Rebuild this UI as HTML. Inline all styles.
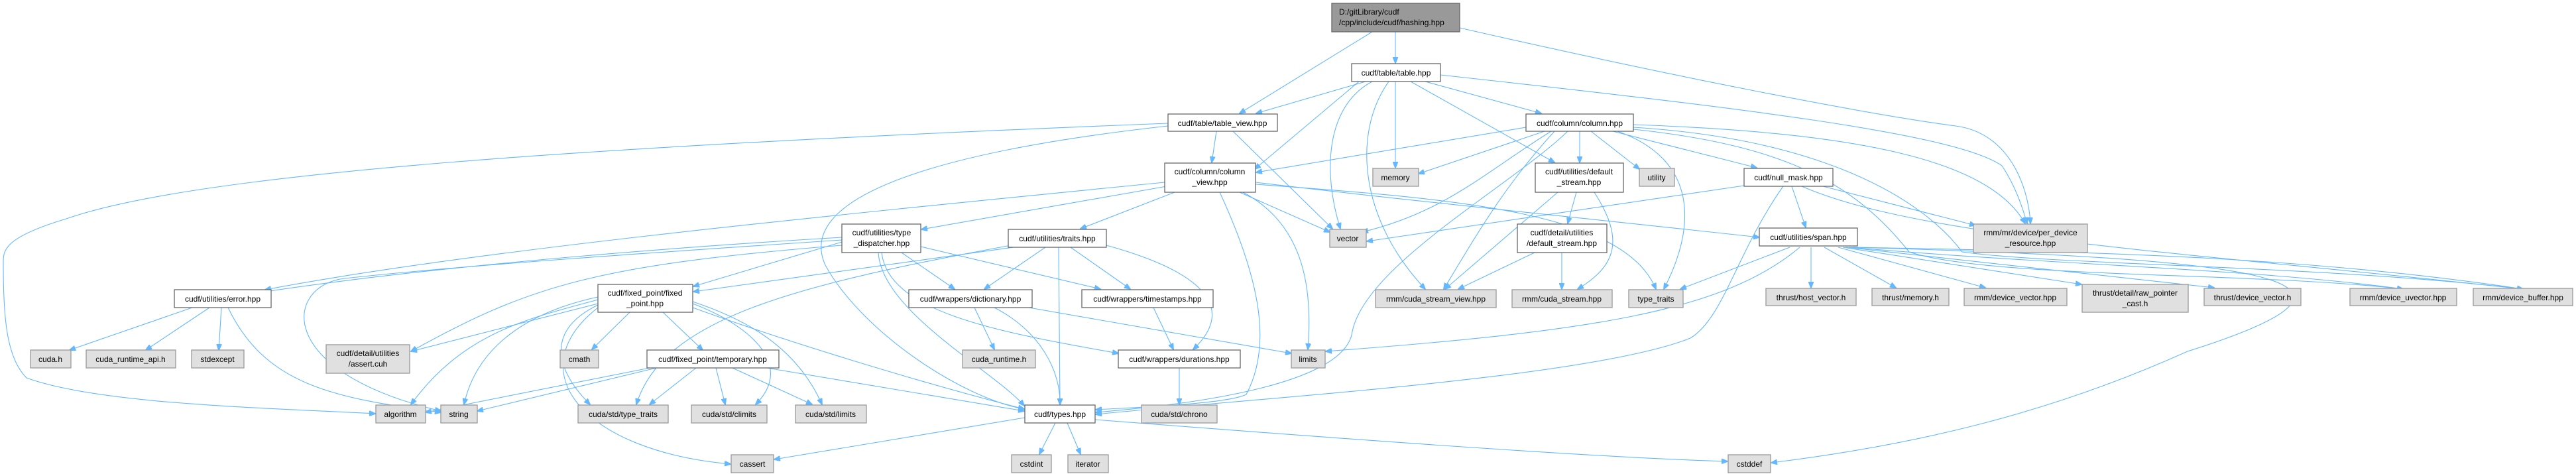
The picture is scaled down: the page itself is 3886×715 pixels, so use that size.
<!DOCTYPE html>
<html><head><meta charset="utf-8"><style>
html,body{margin:0;padding:0;background:#fff;}
svg{display:block;}
text{font-family:"Liberation Sans",sans-serif;font-size:12px;fill:#000;text-anchor:middle;}
.w{fill:#fff;stroke:#666;stroke-width:1.3;}
.g{fill:#e0e0e0;stroke:#999;stroke-width:1.3;}
.h{fill:#999;stroke:#666;stroke-width:1.3;}
.e{fill:none;stroke:#63b8ff;stroke-width:1.1;}
</style></head><body>
<svg width="3886" height="715" viewBox="0 0 3886 715" xmlns="http://www.w3.org/2000/svg">
<defs><marker id="a" markerWidth="10" markerHeight="8" refX="9" refY="4" orient="auto" markerUnits="userSpaceOnUse"><path d="M0,0 L10,4 L0,8 z" fill="#63b8ff" stroke="#63b8ff"/></marker></defs>
<g marker-end="url(#a)">
<path class="e" d="M2105,48 L2105,95"/>
<path class="e" d="M2070,48 L1870,171"/>
<path class="e" d="M2202,42 C2500,110 2800,170 2950,190 C3030,200 3060,280 3063,337"/>
<path class="e" d="M2060,123 L1895,171"/>
<path class="e" d="M2150,123 L2325,171"/>
<path class="e" d="M2105,123 L2105,253"/>
<path class="e" d="M2070,123 C2000,160 1995,260 2022,345"/>
<path class="e" d="M2095,123 C2040,200 2050,330 2150,436"/>
<path class="e" d="M2128,123 L2345,245"/>
<path class="e" d="M2050,123 L1893,255"/>
<path class="e" d="M2173,113 C2600,160 2950,200 3020,250 C3040,280 3050,310 3058,337"/>
<path class="e" d="M1835,198 L1828,245"/>
<path class="e" d="M1860,198 L2010,345"/>
<path class="e" d="M1762,190 C1400,230 1200,300 1245,400 C1300,500 1450,600 1545,617"/>
<path class="e" d="M1762,186 C900,220 300,260 100,330 C0,360 5,380 5,400 C5,480 10,540 40,570 C150,610 400,615 566,624"/>
<path class="e" d="M1757,275 C1200,330 700,380 400,437"/>
<path class="e" d="M1760,281 L1390,346"/>
<path class="e" d="M1772,290 L1630,345"/>
<path class="e" d="M1840,290 C1900,420 1920,520 1880,595 C1850,610 1700,615 1653,618"/>
<path class="e" d="M1875,290 C1970,340 1980,440 1973,527"/>
<path class="e" d="M1870,290 L2006,350"/>
<path class="e" d="M1894,275 C2100,300 2400,330 2654,358"/>
<path class="e" d="M1894,278 C2200,300 2450,320 2498,436"/>
<path class="e" d="M2302,192 L1895,260"/>
<path class="e" d="M2330,198 L2140,262"/>
<path class="e" d="M2383,198 L2383,245"/>
<path class="e" d="M2400,198 L2473,255"/>
<path class="e" d="M2433,198 L2650,253"/>
<path class="e" d="M2340,198 C2240,260 2180,320 2055,350"/>
<path class="e" d="M2345,198 C2270,280 2230,350 2178,436"/>
<path class="e" d="M2365,198 C2280,280 2060,400 2040,500 C2030,580 1800,610 1653,622"/>
<path class="e" d="M2440,198 C2560,240 2560,340 2510,436"/>
<path class="e" d="M2464,188 C2800,200 3000,240 3055,337"/>
<path class="e" d="M2464,192 C2750,210 2900,300 2960,380 C3100,400 3500,400 3806,436"/>
<path class="e" d="M2464,195 C2700,220 2800,280 2880,380 C3000,420 3400,410 3625,436"/>
<path class="e" d="M2350,290 L2180,436"/>
<path class="e" d="M2378,290 L2365,337"/>
<path class="e" d="M2405,290 C2450,360 2440,400 2380,436"/>
<path class="e" d="M2631,280 L2062,364"/>
<path class="e" d="M2703,281 L2724,343"/>
<path class="e" d="M2750,281 L2980,340"/>
<path class="e" d="M2718,281 C2900,360 3300,380 3806,436"/>
<path class="e" d="M2690,281 C2620,380 2600,480 2550,510 C2400,570 1900,600 1653,625"/>
<path class="e" d="M2315,381 L2200,436"/>
<path class="e" d="M2356,381 L2356,436"/>
<path class="e" d="M2700,373 L2535,436"/>
<path class="e" d="M2732,373 L2732,434"/>
<path class="e" d="M2752,373 L2860,434"/>
<path class="e" d="M2773,373 L2995,434"/>
<path class="e" d="M2780,373 L3140,429"/>
<path class="e" d="M2785,373 L3340,434"/>
<path class="e" d="M2790,373 C3100,400 3400,405 3625,436"/>
<path class="e" d="M2795,373 C3200,380 3500,390 3806,436"/>
<path class="e" d="M2715,373 C2600,470 2400,500 2000,530"/>
<path class="e" d="M2795,373 C3400,390 3650,420 3300,530 C3100,620 2900,670 2672,698"/>
<path class="e" d="M1270,358 C900,380 600,410 400,440"/>
<path class="e" d="M1270,365 L1046,432"/>
<path class="e" d="M1360,381 L1440,436"/>
<path class="e" d="M1389,372 L1660,436"/>
<path class="e" d="M1325,381 C1330,470 1500,560 1545,612"/>
<path class="e" d="M1330,381 C1340,470 1500,500 1687,533"/>
<path class="e" d="M1270,370 C900,400 800,430 620,530"/>
<path class="e" d="M1270,362 C1000,380 700,400 520,420 C430,430 410,560 665,620"/>
<path class="e" d="M1577,373 L1485,436"/>
<path class="e" d="M1615,373 L1705,436"/>
<path class="e" d="M1597,373 L1599,610"/>
<path class="e" d="M1669,370 C1850,420 1850,480 1800,527"/>
<path class="e" d="M1529,373 L1046,440"/>
<path class="e" d="M1525,370 C1200,430 1000,480 960,610"/>
<path class="e" d="M290,464 L105,528"/>
<path class="e" d="M316,464 L220,528"/>
<path class="e" d="M334,464 L330,528"/>
<path class="e" d="M344,464 C400,580 500,600 665,622"/>
<path class="e" d="M950,471 L893,527"/>
<path class="e" d="M1000,471 L1060,528"/>
<path class="e" d="M902,458 L620,530"/>
<path class="e" d="M902,452 C800,480 700,500 620,610"/>
<path class="e" d="M902,448 C800,470 720,520 700,610"/>
<path class="e" d="M902,460 C820,500 840,560 890,610"/>
<path class="e" d="M902,464 C780,560 880,680 1102,700"/>
<path class="e" d="M1045,455 C1120,480 1200,520 1240,610"/>
<path class="e" d="M1045,458 C1130,490 1200,550 1140,610"/>
<path class="e" d="M1045,464 C1200,520 1400,580 1545,617"/>
<path class="e" d="M990,555 L720,620"/>
<path class="e" d="M1050,555 L980,610"/>
<path class="e" d="M1080,555 L1094,610"/>
<path class="e" d="M1105,555 L1225,610"/>
<path class="e" d="M1157,555 L1545,620"/>
<path class="e" d="M980,555 L642,622"/>
<path class="e" d="M1470,464 L1500,527"/>
<path class="e" d="M1500,464 C1570,500 1600,560 1599,610"/>
<path class="e" d="M1552,464 L1948,533"/>
<path class="e" d="M1740,464 L1770,527"/>
<path class="e" d="M1779,555 L1779,610"/>
<path class="e" d="M1546,630 L1168,693"/>
<path class="e" d="M1592,638 L1568,685"/>
<path class="e" d="M1610,638 L1630,685"/>
<path class="e" d="M1652,633 C2000,660 2400,690 2606,696"/>
</g>
<rect class="h" x="2009" y="5" width="193" height="43"/><text x="2020" y="22" style="text-anchor:start">D:/gitLibrary/cudf</text><text x="2020" y="38" style="text-anchor:start">/cpp/include/cudf/hashing.hpp</text>
<rect class="w" x="2039" y="96" width="134" height="27"/><text x="2106" y="114">cudf/table/table.hpp</text>
<rect class="w" x="1762" y="172" width="165" height="26"/><text x="1844" y="190">cudf/table/table_view.hpp</text>
<rect class="w" x="2302" y="172" width="162" height="26"/><text x="2383" y="190">cudf/column/column.hpp</text>
<rect class="w" x="1757" y="246" width="137" height="44"/><text x="1825" y="263">cudf/column/column</text><text x="1825" y="279">_view.hpp</text>
<rect class="g" x="2071" y="254" width="69" height="27"/><text x="2105" y="272">memory</text>
<rect class="w" x="2316" y="246" width="133" height="44"/><text x="2382" y="263">cudf/utilities/default</text><text x="2382" y="279">_stream.hpp</text>
<rect class="g" x="2473" y="254" width="53" height="27"/><text x="2499" y="272">utility</text>
<rect class="w" x="2631" y="254" width="134" height="27"/><text x="2698" y="272">cudf/null_mask.hpp</text>
<rect class="w" x="1270" y="338" width="119" height="43"/><text x="1330" y="355">cudf/utilities/type</text><text x="1330" y="371">_dispatcher.hpp</text>
<rect class="w" x="1521" y="346" width="148" height="27"/><text x="1595" y="364">cudf/utilities/traits.hpp</text>
<rect class="g" x="2006" y="346" width="55" height="27"/><text x="2033" y="364">vector</text>
<rect class="w" x="2289" y="338" width="135" height="43"/><text x="2356" y="355">cudf/detail/utilities</text><text x="2356" y="371">/default_stream.hpp</text>
<rect class="w" x="2654" y="344" width="148" height="27"/><text x="2728" y="362">cudf/utilities/span.hpp</text>
<rect class="g" x="2977" y="338" width="172" height="43"/><text x="3063" y="355">rmm/mr/device/per_device</text><text x="3063" y="371">_resource.hpp</text>
<rect class="w" x="263" y="437" width="146" height="27"/><text x="336" y="455">cudf/utilities/error.hpp</text>
<rect class="w" x="902" y="429" width="143" height="42"/><text x="973" y="446">cudf/fixed_point/fixed</text><text x="973" y="462">_point.hpp</text>
<rect class="w" x="1371" y="437" width="186" height="27"/><text x="1464" y="455">cudf/wrappers/dictionary.hpp</text>
<rect class="w" x="1632" y="437" width="198" height="27"/><text x="1731" y="455">cudf/wrappers/timestamps.hpp</text>
<rect class="g" x="2075" y="437" width="182" height="27"/><text x="2166" y="455">rmm/cuda_stream_view.hpp</text>
<rect class="g" x="2281" y="437" width="151" height="27"/><text x="2356" y="455">rmm/cuda_stream.hpp</text>
<rect class="g" x="2457" y="437" width="82" height="27"/><text x="2498" y="455">type_traits</text>
<rect class="g" x="2664" y="435" width="136" height="26"/><text x="2732" y="453">thrust/host_vector.h</text>
<rect class="g" x="2824" y="435" width="116" height="26"/><text x="2882" y="453">thrust/memory.h</text>
<rect class="g" x="2963" y="435" width="155" height="26"/><text x="3040" y="453">rmm/device_vector.hpp</text>
<rect class="g" x="3141" y="429" width="160" height="42"/><text x="3221" y="446">thrust/detail/raw_pointer</text><text x="3221" y="462">_cast.h</text>
<rect class="g" x="3325" y="435" width="146" height="26"/><text x="3398" y="453">thrust/device_vector.h</text>
<rect class="g" x="3545" y="435" width="161" height="26"/><text x="3625" y="453">rmm/device_uvector.hpp</text>
<rect class="g" x="3731" y="435" width="150" height="26"/><text x="3806" y="453">rmm/device_buffer.hpp</text>
<rect class="g" x="46" y="528" width="61" height="27"/><text x="76" y="546">cuda.h</text>
<rect class="g" x="130" y="528" width="135" height="27"/><text x="197" y="546">cuda_runtime_api.h</text>
<rect class="g" x="289" y="528" width="79" height="27"/><text x="328" y="546">stdexcept</text>
<rect class="g" x="492" y="520" width="126" height="43"/><text x="555" y="537">cudf/detail/utilities</text><text x="555" y="553">/assert.cuh</text>
<rect class="g" x="845" y="528" width="58" height="27"/><text x="874" y="546">cmath</text>
<rect class="w" x="976" y="528" width="199" height="27"/><text x="1075" y="546">cudf/fixed_point/temporary.hpp</text>
<rect class="g" x="1452" y="528" width="110" height="27"/><text x="1507" y="546">cuda_runtime.h</text>
<rect class="w" x="1687" y="528" width="184" height="27"/><text x="1779" y="546">cudf/wrappers/durations.hpp</text>
<rect class="g" x="1948" y="528" width="51" height="27"/><text x="1973" y="546">limits</text>
<rect class="g" x="567" y="611" width="75" height="27"/><text x="604" y="629">algorithm</text>
<rect class="g" x="665" y="611" width="55" height="27"/><text x="692" y="629">string</text>
<rect class="g" x="872" y="611" width="136" height="27"/><text x="940" y="629">cuda/std/type_traits</text>
<rect class="g" x="1043" y="611" width="114" height="27"/><text x="1100" y="629">cuda/std/climits</text>
<rect class="g" x="1200" y="611" width="107" height="27"/><text x="1253" y="629">cuda/std/limits</text>
<rect class="w" x="1546" y="611" width="106" height="27"/><text x="1599" y="629">cudf/types.hpp</text>
<rect class="g" x="1722" y="611" width="114" height="27"/><text x="1779" y="629">cuda/std/chrono</text>
<rect class="g" x="1103" y="686" width="64" height="27"/><text x="1135" y="704">cassert</text>
<rect class="g" x="1526" y="686" width="60" height="27"/><text x="1556" y="704">cstdint</text>
<rect class="g" x="1611" y="686" width="61" height="27"/><text x="1641" y="704">iterator</text>
<rect class="g" x="2607" y="686" width="64" height="27"/><text x="2639" y="704">cstddef</text>
</svg>
</body></html>
